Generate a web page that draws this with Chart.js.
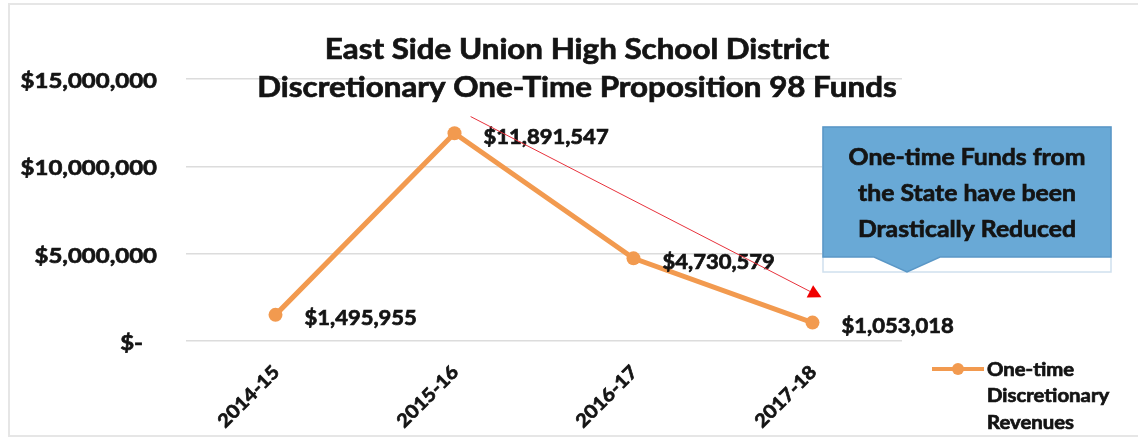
<!DOCTYPE html>
<html>
<head>
<meta charset="utf-8">
<script src="https://cdn.jsdelivr.net/npm/chart.js@4/dist/chart.umd.min.js"></script>
<style>
html,body{margin:0;padding:0;background:#fff;}
#wrap{width:1138px;height:439px;position:relative;}
</style>
</head>
<body>
<div id="wrap"><canvas id="c" width="1138" height="439"></canvas></div>
<script>
const categories = ["2014-15", "2015-16", "2016-17", "2017-18"];
const revenues = [1495955, 11891547, 4730579, 1053018];
const seriesName = ["One-time", "Discretionary", "Revenues"];
const titleLines = ["East Side Union High School District", "Discretionary One-Time Proposition 98 Funds"];
const calloutLines = ["One-time Funds from", "the State have been", "Drastically Reduced"];
const yTicks = [0, 5000000, 10000000, 15000000];
// arrow annotation endpoints in data space: [category index, value]
const arrowFrom = [1.09, 12850000];
const arrowTo = [3.05, 2500000];

const FONT = "Lato, 'Open Sans', sans-serif";
const ORANGE = "#F29A4F";
const INK = "#141414";
const STRETCH = 1.1;

function money(v){
  if (v === 0) return "$-";
  return "$" + v.toLocaleString("en-US");
}

function txt(ctx, s, x, y, size, align, rot){
  ctx.save();
  ctx.translate(x, y);
  if (rot) ctx.rotate(rot);
  ctx.scale(STRETCH, 1);
  ctx.font = "bold " + size + "px " + FONT;
  ctx.textAlign = align;
  ctx.textBaseline = "middle";
  ctx.fillStyle = INK;
  ctx.strokeStyle = INK;
  ctx.lineWidth = 0.7;
  ctx.fillText(s, 0, 0);
  ctx.strokeText(s, 0, 0);
  ctx.restore();
}

const overlay = {
  id: "overlay",
  beforeDraw(chart){
    const ctx = chart.ctx;
    ctx.save();
    ctx.fillStyle = "#fff";
    ctx.fillRect(0,0,chart.width,chart.height);
    ctx.strokeStyle = "#E6E6E6";
    ctx.lineWidth = 2;
    ctx.strokeRect(9,4,chart.width+10,432);
    ctx.restore();
  },
  afterDatasetsDraw(chart){
    const ctx = chart.ctx;
    const xs = chart.scales.x, ys = chart.scales.y;
    const ca = chart.chartArea;
    ctx.save();
    // title
    txt(ctx, titleLines[0], 577, 50, 28.5, "center");
    txt(ctx, titleLines[1], 577, 88, 28.5, "center");

    // y tick labels
    yTicks.forEach(v => {
      const y = ys.getPixelForValue(v) + 2;
      txt(ctx, money(v), v === 0 ? 143 : 157, y, 21.8, "right");
    });

    // data labels
    const meta = chart.getDatasetMeta(0);
    meta.data.forEach((pt, i) => {
      txt(ctx, money(revenues[i]), pt.x + 29, pt.y + 4, 20, "left");
    });

    // x labels rotated
    categories.forEach((c, i) => {
      const x = xs.getPixelForValue(i) + 1;
      const y = ca.bottom + 28;
      txt(ctx, c, x, y, 18.5, "right", -Math.PI/4);
    });

    // red arrow
    const ax1 = xs.getPixelForValue(arrowFrom[0]), ay1 = ys.getPixelForValue(arrowFrom[1]);
    const ax2 = xs.getPixelForValue(arrowTo[0]), ay2 = ys.getPixelForValue(arrowTo[1]);
    const ang = Math.atan2(ay2-ay1, ax2-ax1);
    ctx.strokeStyle = "#E8323C";
    ctx.lineWidth = 1;
    ctx.beginPath();
    ctx.moveTo(ax1, ay1);
    ctx.lineTo(ax2 - 8*Math.cos(ang), ay2 - 8*Math.sin(ang));
    ctx.stroke();
    ctx.fillStyle = "#F00000";
    ctx.beginPath();
    ctx.moveTo(ax2, ay2);
    ctx.lineTo(ax2 - 13*Math.cos(ang) + 7*Math.sin(ang), ay2 - 13*Math.sin(ang) - 7*Math.cos(ang));
    ctx.lineTo(ax2 - 13*Math.cos(ang) - 7*Math.sin(ang), ay2 - 13*Math.sin(ang) + 7*Math.cos(ang));
    ctx.closePath();
    ctx.fill();

    // callout box
    const bx = 823, by = 127, bw = 288, bh = 130, tipY = 272, tipX = 907;
    ctx.strokeStyle = "#CFE0EE";
    ctx.lineWidth = 1.5;
    ctx.strokeRect(bx, by, bw, tipY - by);
    ctx.fillStyle = "#69A9D6";
    ctx.beginPath();
    ctx.moveTo(bx, by);
    ctx.lineTo(bx+bw, by);
    ctx.lineTo(bx+bw, by+bh);
    ctx.lineTo(tipX + 33, by+bh);
    ctx.lineTo(tipX, tipY);
    ctx.lineTo(tipX - 33, by+bh);
    ctx.lineTo(bx, by+bh);
    ctx.closePath();
    ctx.fill();
    ctx.strokeStyle = "#5A97C6";
    ctx.lineWidth = 1.5;
    ctx.stroke();
    calloutLines.forEach((l, i) => txt(ctx, l, 967, 158 + i*36, 22.5, "center"));

    // legend
    const ly = 369;
    ctx.strokeStyle = ORANGE;
    ctx.lineWidth = 4;
    ctx.beginPath();
    ctx.moveTo(932, ly);
    ctx.lineTo(984, ly);
    ctx.stroke();
    ctx.fillStyle = ORANGE;
    ctx.beginPath();
    ctx.arc(958, ly, 6, 0, Math.PI*2);
    ctx.fill();
    seriesName.forEach((l, i) => txt(ctx, l, 987, ly + 1 + i*26.5, 18.5, "left"));
    ctx.restore();
  }
};

new Chart(document.getElementById("c"), {
  type: "line",
  data: {
    labels: categories,
    datasets: [{
      label: seriesName.join(" "),
      data: revenues,
      borderColor: ORANGE,
      backgroundColor: ORANGE,
      borderWidth: 5,
      pointRadius: 7,
      pointHoverRadius: 7,
      pointBackgroundColor: ORANGE,
      pointBorderWidth: 0,
      tension: 0
    }]
  },
  options: {
    responsive: false,
    animation: false,
    events: [],
    layout: { padding: { left: 0, right: 236, top: 79, bottom: 98 } },
    plugins: { legend: { display: false }, title: { display: false }, tooltip: { enabled: false } },
    scales: {
      x: {
        offset: true,
        grid: { display: false, drawTicks: false },
        border: { display: false },
        ticks: { display: false }
      },
      y: {
        min: 0, max: 15000000,
        afterBuildTicks(s){ s.ticks = yTicks.map(v => ({ value: v })); },
        afterFit(s){ s.width = 186; },
        grid: { color: "#DCDCDC", lineWidth: 1.5, drawTicks: false },
        border: { display: false },
        ticks: { display: false }
      }
    }
  },
  plugins: [overlay]
});
</script>
</body>
</html>
